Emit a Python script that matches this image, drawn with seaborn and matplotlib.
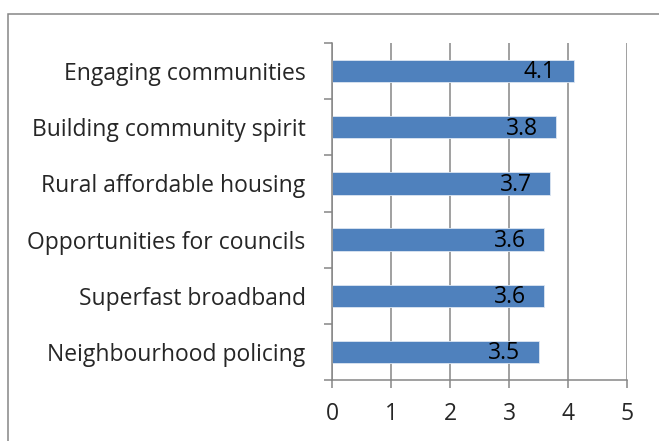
import matplotlib.pyplot as plt
import seaborn as sns
import pandas as pd
from matplotlib.patches import Rectangle

# 数据
categories = [
    'Engaging communities',
    'Building community spirit',
    'Rural affordable housing',
    'Opportunities for councils',
    'Superfast broadband',
    'Neighbourhood policing',
]
scores = [4.1, 3.8, 3.7, 3.6, 3.6, 3.5]
xticks = [0, 1, 2, 3, 4, 5]

df = pd.DataFrame({'category': categories, 'score': scores})

sns.set_style('white')
plt.rcParams['font.family'] = ['Open Sans', 'DejaVu Sans']

grey = '#868686'
fig = plt.figure(figsize=(6.59, 4.41), dpi=100)
ax = fig.add_axes([332 / 659, 1 - 380 / 441, 295 / 659, 337 / 441])

ax.xaxis.grid(True, color=grey, linewidth=1.1)
ax.set_axisbelow(True)
sns.barplot(data=df, x='score', y='category', orient='h', color='#4F81BD',
            saturation=1, width=0.4, edgecolor='#DCE6F2', linewidth=0.6, ax=ax)

# 数值标签
for i, v in enumerate(scores):
    ax.annotate(f'{v}', xy=(v, i), xytext=(-13, -1), textcoords='offset points',
                ha='right', va='center', fontsize=16.5, color='black')

ax.set_xlim(0, 5)
ax.set_xticks(xticks)
ax.set_ylim(len(categories) - 0.5, -0.5)
ax.set_xlabel('')
ax.set_ylabel('')

for side in ['top', 'right']:
    ax.spines[side].set_visible(False)
for side in ['left', 'bottom']:
    ax.spines[side].set_color(grey)
    ax.spines[side].set_linewidth(1.1)

ax.tick_params(axis='x', direction='out', length=5.8, width=1.1, color=grey,
               labelsize=16.5, pad=10, bottom=True)
ax.set_yticks([i - 0.5 for i in range(len(categories) + 1)], minor=True)
ax.tick_params(axis='y', which='minor', direction='out', length=5.8, width=1.1,
               color=grey, left=True)
ax.tick_params(axis='y', which='major', length=0, labelsize=16.5, pad=19)

# 图表外框
fig.patches.append(Rectangle((7.5 / 659, -0.1), 1.2, 1 - 13.5 / 441 + 0.1,
                             transform=fig.transFigure, fill=False,
                             edgecolor=grey, linewidth=1.1))

fig.savefig('out.png', dpi=100)
plt.close()
